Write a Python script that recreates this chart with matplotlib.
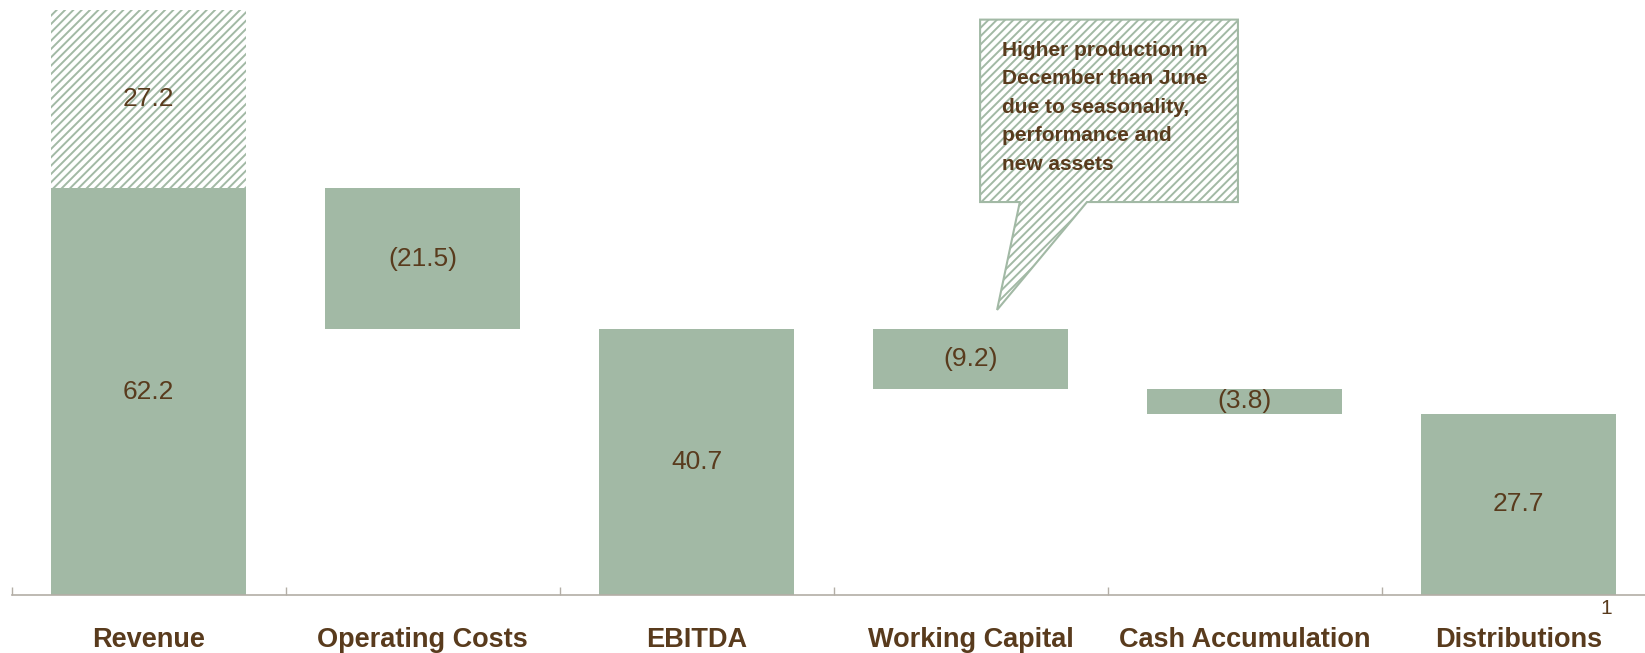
import numpy as np
import matplotlib.pyplot as plt
from matplotlib.patches import Polygon

plt.rcParams['font.family'] = ['Liberation Sans', 'DejaVu Sans']
plt.rcParams['hatch.linewidth'] = 1.4

categories = ["Revenue", "Operating Costs", "EBITDA", "Working Capital",
              "Cash Accumulation", "Distributions"]
# bar bottoms and heights of the waterfall
bar_base = [0.0, 40.7, 0.0, 31.5, 27.7, 0.0]
bar_size = [62.2, 21.5, 40.7, 9.2, 3.8, 27.7]
bar_text = ["62.2", "(21.5)", "40.7", "(9.2)", "(3.8)", "27.7"]
# extra revenue shown hatched on top of the first bar
extra_rev = 27.2
extra_text = "27.2"
note = "Higher production in\nDecember than June\ndue to seasonality,\nperformance and\nnew assets"

green = '#a2b9a5'
brown = '#593b1d'
grey = '#b3aea6'
hatch = '////'

fig = plt.figure(figsize=(16.45, 6.53), dpi=100)
ax = fig.add_axes([11.5/1645, 58/653, 1644/1645, 595/653])

x = np.arange(len(categories))
w = 0.715
ax.bar(x, bar_size, w, bottom=bar_base, color=green, linewidth=0)
for xi, b, h, t in zip(x, bar_base, bar_size, bar_text):
    ax.text(xi, b + h/2, t, ha='center', va='center', fontsize=19, color=brown)

ax.bar(x[0], extra_rev, w, bottom=bar_size[0], facecolor='white',
       edgecolor=green, linewidth=0, hatch=hatch)
ax.text(x[0], bar_size[0] + extra_rev/2, extra_text, ha='center', va='center',
        fontsize=19, color=brown)

# speech-bubble callout pointing at working capital
bubble = [(3.035, 88.0), (3.976, 88.0), (3.976, 60.1), (3.425, 60.1),
          (3.097, 43.6), (3.18, 60.1), (3.035, 60.1)]
ax.add_patch(Polygon(bubble, closed=True, facecolor='white', edgecolor=green,
                     linewidth=1.5, hatch=hatch))
ax.text(3.115, 84.8, note, ha='left', va='top', fontsize=15, fontweight='bold',
        color=brown, linespacing=1.64)

ax.set_xlim(-0.5, len(categories) - 0.5)
ax.set_ylim(0, 91.0)
ax.set_yticks([])
for s in ['left', 'right', 'top']:
    ax.spines[s].set_visible(False)
ax.spines['bottom'].set_color(grey)
ax.spines['bottom'].set_linewidth(1.2)

ax.set_xticks(x)
ax.set_xticklabels(categories, fontsize=19.5, fontweight='bold', color=brown)
ax.tick_params(axis='x', which='major', length=0, pad=23)
ax.set_xticks(np.arange(-0.5, len(categories)), minor=True)
ax.tick_params(axis='x', which='minor', direction='in', length=6, width=1,
               color=grey)

# footnote marker next to the last category
ax.text(5.32, -2.1, "1", ha='center', va='center', fontsize=15, color=brown,
        clip_on=False)

fig.savefig('out.png', dpi=100)
